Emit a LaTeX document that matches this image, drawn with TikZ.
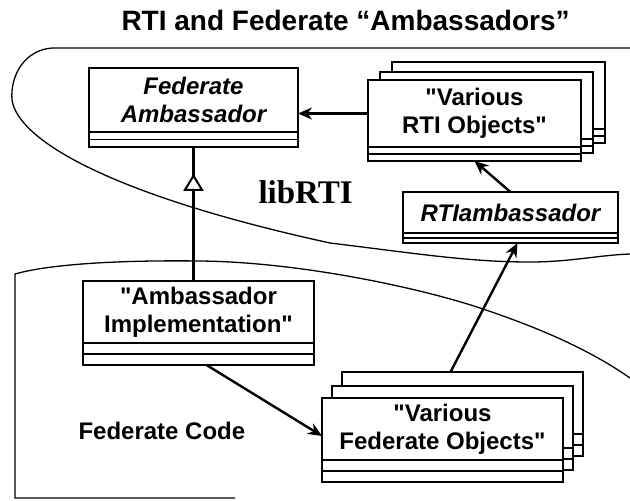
\documentclass[tikz,border=0pt]{standalone}
\usepackage{fontspec}
\setmainfont{Liberation Sans}[Ligatures=TeXOff]
\newfontfamily\libfont{Liberation Serif}
\usetikzlibrary{arrows.meta}
\usetikzlibrary{decorations.markings}

\begin{document}
\begin{tikzpicture}[x=1pt,y=-1pt,
  cls/.style={rectangle,draw,line width=1.2pt,fill=white,outer sep=0pt,inner sep=0pt,anchor=north west,align=center,font=\fontsize{24}{28}\selectfont\bfseries},
  abs/.style={cls,font=\fontsize{24}{28}\selectfont\bfseries\itshape},
  ops/.style={rectangle,draw,line width=1.2pt,fill=white,outer sep=0pt,inner sep=0pt,anchor=north west,minimum height=#1,
    path picture={\draw[line width=1.2pt] (path picture bounding box.west) -- (path picture bounding box.east);}},
  link/.style={line width=2.4pt,-{Stealth[length=14pt,width=12pt]}},
  region/.style={line width=1.3pt}]
\useasboundingbox (0,0) rectangle (630,501);

\draw (118,30) node[anchor=base west,font=\fontsize{28}{32}\selectfont\bfseries] (title) {RTI and Federate “Ambassadors”};

% region outlines
\draw[region] (630,48) -- (52,48) .. controls (25,50) and (10,75) .. (12,100) .. controls (18,140) and (110,195) .. (330,243) .. controls (420,254) and (470,262) .. (530,262) .. controls (570,262) and (600,255) .. (630,254);
\draw[region] (235,498) -- (15,498) -- (15,274) .. controls (50,264) and (120,260) .. (200,261) .. controls (300,262) and (420,288) .. (480,308) .. controls (540,328) and (590,350) .. (630,378);

\draw (255,203) node[anchor=base west,font=\fontsize{33}{36}\selectfont\libfont\bfseries] (lib) {libRTI};
\draw (75,439) node[anchor=base west,font=\fontsize{24}{28}\selectfont\bfseries] (fedcode) {Federate Code};

% libRTI classes
\draw (89,68) node[abs,minimum width=209,minimum height=64] (fa) {Federate\\Ambassador};
\draw (fa.south west) node[ops=15,minimum width=209] (faops) {};

\draw (392,62) node[cls,minimum width=213,minimum height=67] (rtiC) {};
\draw (rtiC.south west) node[ops=14,minimum width=213] (rtiCops) {};
\draw (380,72) node[cls,minimum width=213,minimum height=67] (rtiB) {};
\draw (rtiB.south west) node[ops=14,minimum width=213] (rtiBops) {};
\draw (368,80) node[cls,minimum width=213,minimum height=67] (rti) {"Various\\RTI Objects"};
\draw (rti.south west) node[ops=14,minimum width=213] (rtiops) {};

\draw (403,192) node[abs,minimum width=215,minimum height=41] (rtiamb) {RTIambassador};
\draw (rtiamb.south west) node[ops=10,minimum width=215] (rtiambops) {};

% federate classes
\draw (83,281) node[cls,minimum width=231,minimum height=62] (ai) {"Ambassador\\Implementation"};
\draw (ai.south west) node[ops=22,minimum width=231] (aiops) {};

\draw (342,372) node[cls,minimum width=241,minimum height=62] (foC) {};
\draw (foC.south west) node[ops=22,minimum width=241] (foCops) {};
\draw (332,386) node[cls,minimum width=241,minimum height=62] (foB) {};
\draw (foB.south west) node[ops=22,minimum width=241] (foBops) {};
\draw (322,398) node[cls,minimum width=241,minimum height=62] (fo) {"Various\\Federate Objects"};
\draw (fo.south west) node[ops=22,minimum width=241] (foops) {};

% connectors
\draw[line width=2.4pt,postaction={decorate},decoration={markings,mark=at position 0.8 with {\arrow{Triangle[fill=white,line width=2pt,length=17pt,width=20pt]}}}] (ai.north -| faops.south) -- (faops.south);
\draw[link] (rti.west) -- (rti.west -| fa.east);
\draw[link] (rtiamb.north) -- (rtiops.south);
\draw[link] ([xshift=-12pt]foC.north) -- ([xshift=7pt]rtiambops.south);
\draw[link] ([xshift=8pt]aiops.south) -- ([yshift=-7pt]fo.west);
\end{tikzpicture}
\end{document}
